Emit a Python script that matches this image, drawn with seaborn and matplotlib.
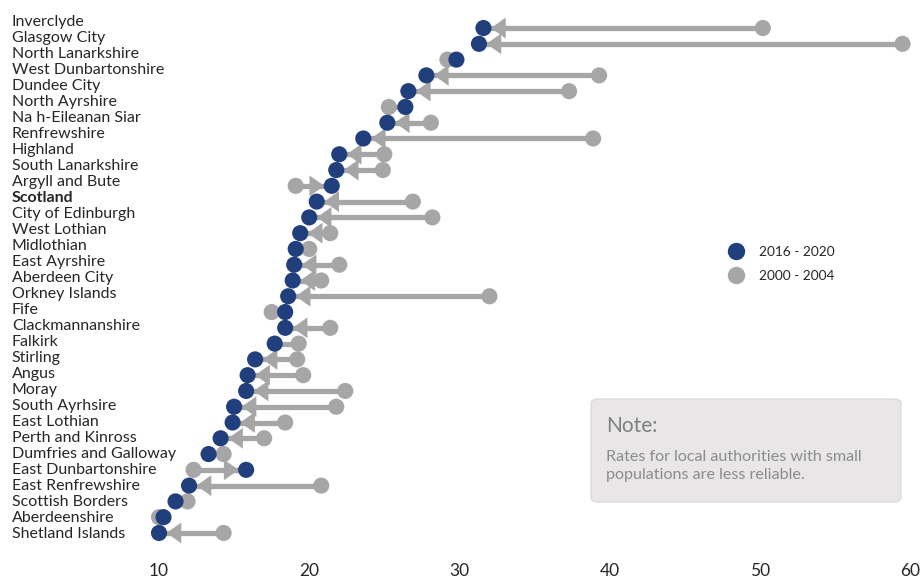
import matplotlib
matplotlib.use("Agg")
import matplotlib.pyplot as plt
from matplotlib.patches import FancyBboxPatch
from matplotlib.lines import Line2D
import seaborn as sns
import pandas as pd

areas = ["Inverclyde", "Glasgow City", "North Lanarkshire", "West Dunbartonshire",
         "Dundee City", "North Ayrshire", "Na h-Eileanan Siar", "Renfrewshire",
         "Highland", "South Lanarkshire", "Argyll and Bute", "Scotland",
         "City of Edinburgh", "West Lothian", "Midlothian", "East Ayrshire",
         "Aberdeen City", "Orkney Islands", "Fife", "Clackmannanshire", "Falkirk",
         "Stirling", "Angus", "Moray", "South Ayrhsire", "East Lothian",
         "Perth and Kinross", "Dumfries and Galloway", "East Dunbartonshire",
         "East Renfrewshire", "Scottish Borders", "Aberdeenshire", "Shetland Islands"]

rate_2016_2020 = [31.6, 31.3, 29.8, 27.8, 26.6, 26.4, 25.2, 23.6, 22.0, 21.8, 21.5,
                  20.5, 20.0, 19.4, 19.1, 19.0, 18.9, 18.6, 18.4, 18.4, 17.7, 16.4,
                  15.9, 15.8, 15.0, 14.9, 14.1, 13.3, 15.8, 12.0, 11.1, 10.3, 10.0]

rate_2000_2004 = [50.2, 59.5, 29.2, 39.3, 37.3, 25.3, 28.1, 38.9, 25.0, 24.9, 19.1,
                  26.9, 28.2, 21.4, 20.0, 22.0, 20.8, 32.0, 17.5, 21.4, 19.3, 19.2,
                  19.6, 22.4, 21.8, 18.4, 17.0, 14.3, 12.3, 20.8, 11.9, 10.0, 14.3]

periods = ["2016 - 2020", "2000 - 2004"]
x_ticks = [10, 20, 30, 40, 50, 60]

dark = "#203f7c"
grey = "#a6a6a6"

sns.set_theme(style="white")
plt.rcParams["font.family"] = ["Lato", "DejaVu Sans"]

n = len(areas)
rows = list(range(n))
df = pd.DataFrame({
    "row": rows + rows,
    "rate": rate_2000_2004 + rate_2016_2020,
    "period": [periods[1]] * n + [periods[0]] * n,
})

fig = plt.figure(figsize=(9.22, 5.78), dpi=100)
ax = fig.add_axes([150 / 922, (578 - 544) / 578, 765 / 922, 527 / 578])

# shafts from old rate to new rate
ax.hlines(rows, rate_2000_2004, rate_2016_2020, color=grey, lw=3.8, zorder=1)

# arrow heads only where the gap is wide enough to show them
for i in rows:
    if abs(rate_2016_2020[i] - rate_2000_2004[i]) < 1.7:
        continue
    ax.annotate("", xy=(rate_2016_2020[i], i), xytext=(rate_2000_2004[i], i),
                arrowprops=dict(arrowstyle="-|>,head_length=0.85,head_width=0.6",
                                color=grey, lw=0, mutation_scale=12.5,
                                shrinkA=0, shrinkB=5.4),
                zorder=1)

sns.scatterplot(data=df, x="rate", y="row", hue="period",
                palette={periods[0]: dark, periods[1]: grey},
                s=135, linewidth=0, legend=False, ax=ax, zorder=3)

ax.set_xlim(9.4, 60.33)
ax.set_ylim(n - 0.3, -0.7)
ax.set_xticks(x_ticks)
ax.set_xticklabels([str(t) for t in x_ticks], fontsize=12.5)
ax.set_yticks([i - 0.5 * (1 - i / (n - 1)) for i in rows])
ax.set_yticklabels(areas, fontsize=11.5, ha="left")
ax.tick_params(axis="y", length=0, pad=99.4)
ax.tick_params(axis="x", length=0, pad=14)
for lab in ax.get_yticklabels():
    if lab.get_text() == "Scotland":
        lab.set_fontweight("bold")
ax.set_xlabel("")
ax.set_ylabel("")
sns.despine(ax=ax, left=True, bottom=True)

handles = [Line2D([], [], marker="o", ls="", color=dark, markersize=11.5),
           Line2D([], [], marker="o", ls="", color=grey, markersize=11.5)]
fig.legend(handles, periods, loc="center left",
           bbox_to_anchor=(710 / 922, (578 - 264) / 578),
           frameon=False, fontsize=9.8, handletextpad=0.7, labelspacing=0.85)

box = FancyBboxPatch((591 / 922, (578 - 502) / 578), 310 / 922, 103 / 578,
                     boxstyle="round,pad=0,rounding_size=0.008",
                     transform=fig.transFigure, facecolor="#e8e6e6",
                     edgecolor="#dedbdb", linewidth=1)
fig.patches.append(box)
fig.text(606 / 922, (578 - 426) / 578, "Note:", fontsize=15, color="#7f7f7f",
         va="center", ha="left")
fig.text(606 / 922, (578 - 466) / 578,
         "Rates for local authorities with small\npopulations are less reliable.",
         fontsize=11.6, color="#8c8c8c", va="center", ha="left", linespacing=1.45)

fig.savefig("out.png", dpi=100)
